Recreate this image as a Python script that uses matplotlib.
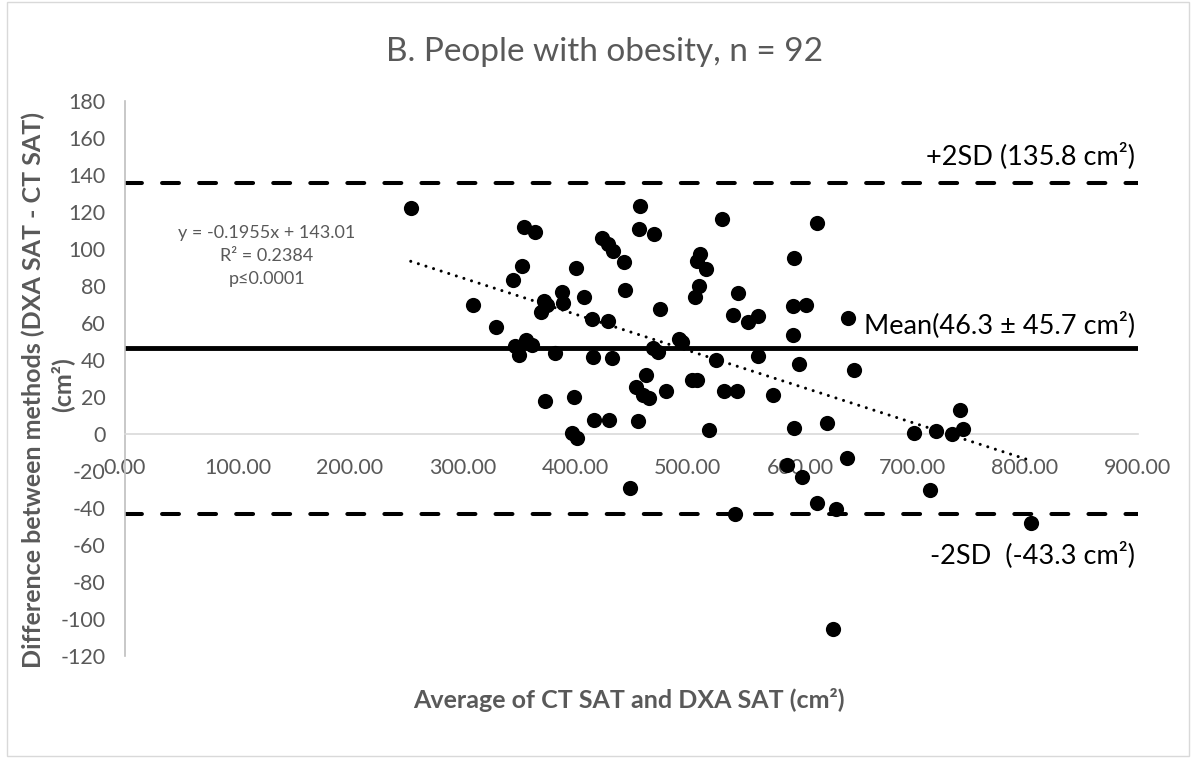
import matplotlib.pyplot as plt
from matplotlib.patches import Rectangle
import numpy as np

# Bland-Altman data: mean of the two methods vs. their difference (cm2)
avg_sat = [254, 309, 330, 355, 364, 353, 345, 372, 375, 370,
           388, 389, 401, 408, 415, 429, 424, 429, 434, 443.5,
           444, 458, 457, 470.5, 347, 350, 356, 361.5, 382.5, 416,
           432.5, 373, 399, 397.5, 402, 416.5, 430, 456, 463, 454,
           460, 465.5, 481, 504, 508, 449, 469.5, 474, 492, 495,
           519, 475.5, 531, 615, 511, 508, 516, 510.5, 507, 545,
           540, 554, 562.5, 595, 593.5, 605, 594, 525, 532, 544,
           563, 576, 599, 594.5, 624, 648, 588, 601.5, 641.5, 615.5,
           632, 542, 742, 701.5, 721, 735, 745, 715.5, 805, 629.5,
           643]
diff_sat = [122, 70, 58, 112, 109, 91, 83, 72, 70, 66,
            77, 71, 90, 74, 62, 61, 106, 102.5, 99, 93,
            78, 123, 111, 108, 47.5, 42.5, 51, 48, 44, 41.5,
            41, 18, 20, 0.7, -2, 7.5, 7.5, 7, 32, 25.5,
            21, 19.5, 23.5, 29, 29, -29, 46.5, 44.5, 51.5, 49.5,
            2, 67.5, 116, 114, 97.5, 93.5, 89, 80, 74, 76,
            64.5, 60.5, 64, 95, 69, 70, 53.5, 40, 23.5, 23.5,
            42, 21, 38, 3, 6, 34.5, -17, -23.5, -13, -37.5,
            -40.5, -43, 13, 0.5, 1.5, 0, 2.5, -30.5, -48, -105.5,
            62.5]

mean_diff = 46.3
sd_diff = 45.7
upper_loa = 135.8
lower_loa = -43.3
slope = -0.1955
intercept = 143.01
r_squared = 0.2384

x_ticks = np.arange(0, 901, 100)
y_ticks = np.arange(-120, 181, 20)

grey = '#595959'
plt.rcParams['font.family'] = ['Lato', 'DejaVu Sans']
plt.rcParams['axes.unicode_minus'] = False

fig = plt.figure(figsize=(11.94, 7.62), dpi=100)
fig.patches.append(Rectangle((0.006, 0.008), 0.99, 0.99, transform=fig.transFigure,
                             fill=False, edgecolor='#d9d9d9', lw=1))
ax = fig.add_axes([125 / 1194, 1 - 656 / 762, 1012.5 / 1194, 555 / 762])

ax.scatter(avg_sat, diff_sat, s=120, color='black', zorder=3, linewidths=0)

# limits of agreement and mean difference
ax.axhline(upper_loa, color='black', lw=2.9, dashes=(4.2, 5.0), dash_capstyle='round')
ax.axhline(lower_loa, color='black', lw=2.9, dashes=(4.2, 5.0), dash_capstyle='round')
ax.axhline(mean_diff, color='black', lw=3.5)

# linear trend
xs = np.array([min(avg_sat), max(avg_sat)])
ax.plot(xs, slope * xs + intercept, color='black', lw=2.2,
        dashes=(0.01, 2.6), dash_capstyle='round', zorder=4)

ax.set_xlim(0, 900)
ax.set_ylim(-120, 180)
ax.set_xticks(x_ticks)
ax.set_xticklabels(['%.2f' % v for v in x_ticks])
ax.set_yticks(y_ticks)
ax.tick_params(axis='both', length=0, labelsize=15.5, labelcolor=grey)
ax.tick_params(axis='x', pad=17)
ax.tick_params(axis='y', pad=14)

for side in ['top', 'right']:
    ax.spines[side].set_visible(False)
ax.spines['left'].set_color('#bfbfbf')
ax.spines['left'].set_linewidth(1.2)
ax.spines['bottom'].set_position(('data', 0))
ax.spines['bottom'].set_color('#d9d9d9')
ax.spines['bottom'].set_linewidth(1.2)

fig.text(1135 / 1194, 1 - 156 / 762, '+2SD (%.1f cm²)' % upper_loa,
         ha='right', va='center', fontsize=19.5)
fig.text(1135 / 1194, 1 - 325 / 762, 'Mean(%.1f ± %.1f cm²)' % (mean_diff, sd_diff),
         ha='right', va='center', fontsize=19.5)
fig.text(1135 / 1194, 1 - 555 / 762, '-2SD  (%.1f cm²)' % lower_loa,
         ha='right', va='center', fontsize=19.5)

fig.text(267 / 1194, 1 - 256 / 762,
         'y = %.4fx + %.2f\nR² = %.4f\np≤0.0001' % (slope, intercept, r_squared),
         ha='center', va='center', fontsize=13, color=grey, linespacing=1.55)

fig.text(605 / 1194, 1 - 52 / 762, 'B. People with obesity, n = 92',
         ha='center', va='center', fontsize=24, color=grey)
fig.text(629 / 1194, 1 - 700 / 762, 'Average of CT SAT and DXA SAT (cm²)',
         ha='center', va='center', fontsize=18, fontweight='bold', color=grey)
# y axis title on two lines
fig.text(33 / 1194, 1 - 390 / 762, 'Difference between methods (DXA SAT - CT SAT)',
         ha='center', va='center', rotation=90, fontsize=18, fontweight='bold', color=grey)
fig.text(62 / 1194, 1 - 385 / 762, '(cm²)',
         ha='center', va='center', rotation=90, fontsize=18, fontweight='bold', color=grey)

fig.savefig('out.png', dpi=100)
